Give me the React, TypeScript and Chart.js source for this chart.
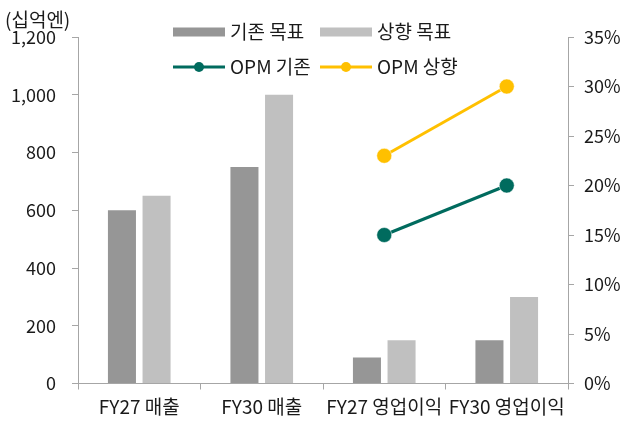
import React, { useEffect, useRef } from "react";
import { Chart, registerables } from "chart.js";

Chart.register(...registerables);

const categories = ["FY27 매출", "FY30 매출", "FY27 영업이익", "FY30 영업이익"];
const baseTarget = [600, 750, 90, 150];
const raisedTarget = [650, 1000, 150, 300];
const opmBase = [null, null, 15, 20];
const opmRaised = [null, null, 23, 30];
const seriesNames = ["기존 목표", "상향 목표", "OPM 기존", "OPM 상향"];
const unitLabel = "(십억엔)";

const FONT = '"Noto Sans CJK KR", "Noto Sans", sans-serif';
const C_DARK = "#969696";
const C_LIGHT = "#c0c0c0";
const C_TEAL = "#006b5e";
const C_GOLD = "#ffc000";
const AXIS = "#a6a6a6";
const TEXT = "#1a1a1a";

const overlayPlugin = {
  id: "overlay",
  afterDraw(chart: any) {
    const ctx = chart.ctx;
    ctx.save();
    ctx.font = `19px ${FONT}`;
    ctx.fillStyle = TEXT;
    ctx.textBaseline = "middle";
    ctx.textAlign = "left";
    ctx.fillText(unitLabel, 5, 20);

    const items = [
      { x: 173, y: 32, kind: "box", color: C_DARK, label: seriesNames[0] },
      { x: 320, y: 32, kind: "box", color: C_LIGHT, label: seriesNames[1] },
      { x: 173, y: 67, kind: "line", color: C_TEAL, label: seriesNames[2] },
      { x: 320, y: 67, kind: "line", color: C_GOLD, label: seriesNames[3] },
    ];
    for (const it of items) {
      if (it.kind === "box") {
        ctx.fillStyle = it.color;
        ctx.fillRect(it.x, it.y - 4.5, 52, 9);
      } else {
        ctx.strokeStyle = it.color;
        ctx.lineWidth = 3;
        ctx.beginPath();
        ctx.moveTo(it.x, it.y);
        ctx.lineTo(it.x + 52, it.y);
        ctx.stroke();
        ctx.fillStyle = it.color;
        ctx.beginPath();
        ctx.arc(it.x + 26, it.y, 5, 0, Math.PI * 2);
        ctx.fill();
      }
      ctx.fillStyle = TEXT;
      ctx.fillText(it.label, it.x + 57, it.y);
    }
    ctx.restore();
  },
};

export default function App() {
  const ref = useRef<HTMLCanvasElement | null>(null);

  useEffect(() => {
    if (!ref.current) return;
    const chart = new Chart(ref.current, {
      type: "bar",
      data: {
        labels: categories,
        datasets: [
          {
            type: "bar",
            label: seriesNames[0],
            data: baseTarget,
            backgroundColor: C_DARK,
            yAxisID: "y",
            order: 2,
            categoryPercentage: 0.565,
            barPercentage: 0.81,
          },
          {
            type: "bar",
            label: seriesNames[1],
            data: raisedTarget,
            backgroundColor: C_LIGHT,
            yAxisID: "y",
            order: 2,
            categoryPercentage: 0.565,
            barPercentage: 0.81,
          },
          {
            type: "line",
            label: seriesNames[2],
            data: opmBase,
            borderColor: C_TEAL,
            backgroundColor: C_TEAL,
            borderWidth: 3,
            pointRadius: 7.5,
            pointBorderColor: "#ffffff",
            pointBorderWidth: 0.5,
            yAxisID: "y1",
            order: 0,
          },
          {
            type: "line",
            label: seriesNames[3],
            data: opmRaised,
            borderColor: C_GOLD,
            backgroundColor: C_GOLD,
            borderWidth: 3,
            pointRadius: 7.5,
            pointBorderColor: "#ffffff",
            pointBorderWidth: 0.5,
            yAxisID: "y1",
            order: 0,
          },
        ] as any,
      },
      options: {
        responsive: false,
        animation: false,
        layout: { padding: { top: 37, left: 0, right: 0, bottom: 0 } },
        plugins: {
          legend: { display: false },
          tooltip: { enabled: false },
          title: { display: false },
        },
        scales: {
          x: {
            offset: true,
            grid: {
              offset: true,
              drawOnChartArea: false,
              drawTicks: true,
              tickLength: 6,
              color: AXIS,
            },
            border: { display: true, color: AXIS, width: 1 },
            ticks: {
              color: TEXT,
              font: { family: FONT, size: 19 },
              padding: 6,
              maxRotation: 0,
              autoSkip: false,
            },
            afterFit(scale: any) {
              scale.height = 37.5;
            },
          },
          y: {
            position: "left",
            min: 0,
            max: 1200,
            grid: {
              drawOnChartArea: false,
              drawTicks: true,
              tickLength: 6,
              color: AXIS,
            },
            border: { display: true, color: AXIS, width: 1 },
            ticks: {
              stepSize: 200,
              color: TEXT,
              font: { family: FONT, size: 18 },
              padding: 16,
              callback: (v: any) => Number(v).toLocaleString("en-US"),
            },
            afterFit(scale: any) {
              scale.width = 78;
            },
          },
          y1: {
            position: "right",
            min: 0,
            max: 35,
            grid: {
              drawOnChartArea: false,
              drawTicks: true,
              tickLength: 6,
              color: AXIS,
            },
            border: { display: true, color: AXIS, width: 1 },
            ticks: {
              stepSize: 5,
              color: TEXT,
              font: { family: FONT, size: 18 },
              padding: 10,
              callback: (v: any) => `${v}%`,
            },
            afterFit(scale: any) {
              scale.width = 54;
            },
          },
        },
      },
      plugins: [overlayPlugin],
    });
    return () => chart.destroy();
  }, []);

  return (
    <div style={{ position: "fixed", left: 0, top: 0, width: 622, height: 421, background: "#fff" }}>
      <canvas ref={ref} width={622} height={421} style={{ width: 622, height: 421 }} />
    </div>
  );
}
